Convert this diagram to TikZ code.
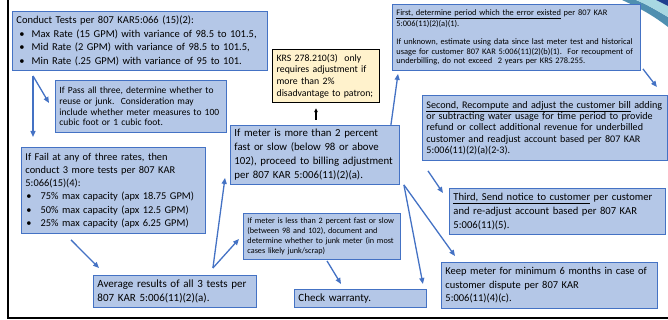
\documentclass[tikz,border=0pt]{standalone}
\usepackage{fontspec}
\setmainfont{Carlito}
\usetikzlibrary{calc, arrows.meta}
\definecolor{boxfill}{HTML}{B4C7E7}
\definecolor{boxline}{HTML}{4472C4}
\definecolor{notefill}{HTML}{FFF2CC}
\definecolor{swnavy}{HTML}{1F3F8F}
\definecolor{swteal}{HTML}{A8D8E2}
\definecolor{swsteel}{HTML}{4F8FB0}

\begin{document}
\begin{tikzpicture}[x=1pt,y=-1pt,
    infobox/.style={draw=boxline,fill=boxfill,line width=0.9pt,anchor=north west,align=left,inner xsep=4pt,inner ysep=2pt},
    flow/.style={draw=boxline,line width=1.3pt,-{Triangle[length=6pt,width=5pt]}}]
    \useasboundingbox (0,0) rectangle (668,320);
    % corner swoosh
    \fill[swsteel] (622,0) .. controls (642,9) and (655,17) .. (668,27) -- (668,17) .. controls (656,10) and (646,4) .. (636,0) -- cycle;
    \fill[swteal] (636,0) .. controls (646,4) and (656,10) .. (668,17) -- (668,6) .. controls (662,3) .. (656,0) -- cycle;
    \fill[swnavy] (656,0) .. controls (662,3) .. (668,6) -- (668,0) -- cycle;
    % frame
    \draw[line width=2pt] (8,0) -- (8,318) -- (668,318);

    \node[infobox,font=\fontsize{10.5}{13.4}\selectfont,minimum width=255pt,minimum height=59pt,text width=247pt] (tests) at (12,11)
        {Conduct Tests per 807 KAR5:066 (15)(2):\\
         \hspace*{3pt}\textbullet\hspace{7pt}Max Rate (15 GPM) with variance of 98.5 to 101.5,\\
         \hspace*{3pt}\textbullet\hspace{7pt}Mid Rate (2 GPM) with variance of 98.5 to 101.5,\\
         \hspace*{3pt}\textbullet\hspace{7pt}Min Rate (.25 GPM) with variance of 95 to 101.};
    \node[infobox,font=\fontsize{9.5}{10.8}\selectfont,minimum width=171pt,minimum height=52pt,text width=163pt] (pass) at (55,80)
        {If Pass all three, determine whether to\\ reuse or junk.\ \ Consideration may\\ include whether meter measures to 100\\ cubic foot or 1 cubic foot.};
    \node[infobox,font=\fontsize{10.4}{13.2}\selectfont,minimum width=184pt,minimum height=86pt,text width=176pt] (fail) at (21,147)
        {If Fail at any of three rates, then\\ conduct 3 more tests per 807 KAR\\ 5:066(15)(4):\\
         \hspace*{1pt}\textbullet\hspace{9pt}75\% max capacity (apx 18.75 GPM)\\
         \hspace*{1pt}\textbullet\hspace{9pt}50\% max capacity (apx 12.5 GPM)\\
         \hspace*{1pt}\textbullet\hspace{9pt}25\% max capacity (apx 6.25 GPM)};
    \node[infobox,font=\fontsize{11}{13.5}\selectfont,minimum width=163pt,minimum height=32pt,text width=155pt] (avg) at (93,275)
        {Average results of all 3 tests per\\ 807 KAR 5:006(11)(2)(a).};
    \node[infobox,draw=black,fill=notefill,line width=1.2pt,font=\fontsize{9.8}{11.7}\selectfont,minimum width=107pt,minimum height=53pt,text width=99pt] (krs) at (272,49)
        {KRS 278.210(3)\ \ only\\ requires adjustment if\\ more than 2\%\\ disadvantage to patron;};
    \node[infobox,font=\fontsize{10.8}{14}\selectfont,minimum width=169pt,minimum height=59pt,text width=161pt] (more) at (230,125)
        {If meter is more than 2 percent\\ fast or slow (below 98 or above\\ 102), proceed to billing adjustment\\ per 807 KAR 5:006(11)(2)(a).};
    \node[infobox,font=\fontsize{8.2}{10}\selectfont,minimum width=157pt,minimum height=46pt,text width=149pt] (less) at (243,213)
        {If meter is less than 2 percent fast or slow\\ (between 98 and 102), document and\\ determine whether to junk meter (in most\\ cases likely junk/scrap)};
    \node[infobox,font=\fontsize{11}{13.5}\selectfont,minimum width=132pt,minimum height=18pt,text width=124pt] (check) at (294,289)
        {Check warranty.};
    \node[infobox,font=\fontsize{10.5}{13.6}\selectfont,minimum width=216pt,minimum height=46pt,text width=208pt] (keep) at (441,262)
        {Keep meter for minimum 6 months in case of\\ customer dispute per 807 KAR\\ 5:006(11)(4)(c).};
    \node[infobox,font=\fontsize{10.6}{14}\selectfont,minimum width=216pt,minimum height=46pt,text width=208pt] (third) at (449,188)
        {\underline{Third, Send notice to customer} per customer\\ and re-adjust account based per 807 KAR\\ 5:006(11)(5).};
    \node[infobox,font=\fontsize{10.1}{11.3}\selectfont,minimum width=245pt,minimum height=65pt,text width=237pt] (second) at (422,95)
        {\underline{Second, Recompute and adjust the customer bill} adding\\ or subtracting water usage for time period to provide\\ refund or collect additional revenue for underbilled\\ customer and readjust account based per 807 KAR\\ 5:006(11)(2)(a)(2-3).};
    \node[infobox,font=\fontsize{8.4}{9.4}\selectfont,minimum width=248pt,minimum height=66pt,text width=240pt] (first) at (392,4)
        {\underline{First, determine period which the error existed} per 807 KAR\\ 5:006(11)(2)(a)(1).\\[9.4pt]
         If unknown, estimate using data since last meter test and historical\\ usage for customer 807 KAR 5:006(11)(2)(b)(1).\ \ For recoupment of\\ underbilling, do not exceed\ \ 2 years per KRS 278.255.};

    % connectors
    \draw[flow] ($(tests.south west)+(21,5)$) -- ($(pass.north west)+(-6,23)$);
    \draw[flow] ($(tests.south west)+(21,5)$) -- ($(fail.north west)+(12,-10)$);
    \draw[flow] ($(fail.south west)+(50,6)$) -- ($(avg.north west)+(6,-7)$);
    \draw[flow] ($(avg.north east)+(-44,-7)$) -- ($(more.south west)+(-5,-7)$);
    \draw[flow] ($(avg.north east)+(-44,-7)$) -- ($(less.north west)+(-4,26)$);
    \draw[flow] ($(less.south west)+(84,1)$) -- ($(check.north west)+(47,-5)$);
    \draw[flow] ($(more.south east)+(4,0)$) -- ($(check.north east)+(-4,-5)$);
    \draw[flow] ($(more.south east)+(4,0)$) -- ($(keep.north west)+(14,-6)$);
    \draw[line width=1.2pt,-{Triangle[length=4pt,width=3.5pt]}] ($(more.north west)+(86,-5)$) -- ($(krs.south west)+(44,5)$);
    \draw[flow] ($(more.north east)+(-9,0)$) -- ($(first.south west)+(6,3)$);
    \draw[flow] ($(first.south east)+(2,-2)$) -- ($(second.north east)+(-11,-8)$);
    \draw[flow] ($(second.south west)+(6,10)$) -- ($(third.north west)+(-6,5)$);
\end{tikzpicture}
\end{document}
